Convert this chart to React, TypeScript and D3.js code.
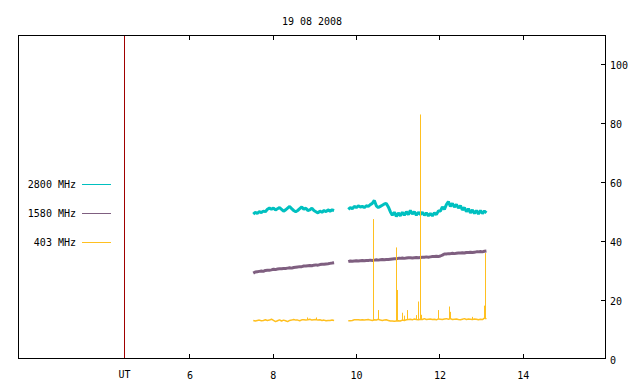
import * as React from 'react';
import { scaleLinear, line } from 'd3';

const title = '19 08 2008';
const xTicks = [6, 8, 10, 12, 14];
const yTicks = [0, 20, 40, 60, 80, 100];
const utMark = 4.43; // red marker line, labelled "UT"

// two recording windows, UT hours
const win1 = [7.52, 9.46];
const win2 = [9.8, 13.115];

// 2800 MHz flux
const f2800a = [49.4, 50.0, 49.6, 50.2, 49.9, 50.4, 50.2, 51.0, 51.4, 51.0, 51.4, 50.8, 51.2, 51.6,
  51.0, 50.4, 50.8, 51.4, 52.0, 51.2, 50.6, 50.2, 50.6, 51.2, 51.8, 51.0, 51.4, 50.6, 50.8, 51.4,
  50.6, 50.2, 49.8, 50.4, 50.0, 50.6, 50.2, 50.8, 50.4, 50.8, 50.6];
const f2800b = [51.0, 51.6, 51.2, 52.0, 51.6, 52.2, 51.8, 52.0, 51.6, 52.2, 52.0, 52.6, 53.0, 54.0,
  52.2, 51.6, 52.0, 52.4, 52.8, 53.0, 51.8, 50.2, 49.0, 50.0, 48.6, 49.8, 48.8, 50.0, 49.0, 50.2,
  49.2, 50.6, 49.4, 50.2, 49.0, 50.0, 49.2, 50.0, 49.0, 49.8, 48.8, 49.6, 48.8, 49.8, 49.2, 50.4,
  50.4, 51.8, 51.0, 52.6, 53.6, 52.0, 53.0, 51.8, 52.6, 51.4, 52.2, 50.8, 51.6, 50.2, 51.2, 49.8,
  50.8, 49.6, 50.6, 49.4, 50.6, 49.6, 50.4, 49.8];

// 1580 MHz flux
const f1580a = [29.4, 29.8, 29.9, 30.0, 30.1, 30.0, 30.3, 30.4, 30.4, 30.5, 30.7, 30.6, 30.8, 30.9,
  30.9, 31.0, 31.0, 31.1, 31.2, 31.1, 31.3, 31.4, 31.5, 31.6, 31.6, 31.8, 31.8, 31.9, 32.0, 31.9,
  32.1, 32.2, 32.1, 32.3, 32.4, 32.4, 32.5, 32.6, 32.7, 32.8, 32.9];
const f1580b = [33.3, 33.5, 33.4, 33.5, 33.6, 33.5, 33.6, 33.7, 33.6, 33.7, 33.7, 33.8, 33.7, 33.8,
  33.9, 33.8, 33.9, 34.0, 33.9, 34.0, 34.0, 34.1, 34.2, 34.3, 34.3, 34.4, 34.4, 34.5, 34.4, 34.5,
  34.6, 34.6, 34.5, 34.6, 34.7, 34.6, 34.7, 34.8, 34.8, 34.9, 34.8, 34.9, 35.0, 35.0, 35.1, 35.0,
  35.2, 35.5, 35.9, 35.9, 36.0, 36.0, 36.1, 36.0, 36.1, 36.2, 36.2, 36.3, 36.2, 36.4, 36.4, 36.5,
  36.4, 36.5, 36.6, 36.6, 36.7, 36.6, 36.8, 36.9];

// 403 MHz flux (background) + bursts
const f403a = [13.4, 13.2, 13.4, 13.5, 13.3, 13.4, 13.6, 13.4, 13.5, 13.8, 13.4, 13.0, 13.3, 13.6,
  13.2, 13.5, 13.3, 13.0, 13.4, 13.5, 13.7, 13.5, 13.5, 13.3, 13.6, 13.6, 13.5, 13.6, 13.8, 13.5,
  13.6, 13.7, 13.5, 13.6, 13.4, 13.5, 13.3, 13.4, 13.4, 13.5, 13.4];
const f403b = [13.3, 13.3, 13.4, 13.6, 13.6, 13.6, 13.5, 13.6, 13.5, 13.6, 13.7, 13.5, 13.4, 13.6,
  13.5, 13.8, 13.5, 13.4, 13.5, 13.6, 13.4, 13.2, 13.2, 13.1, 13.2, 13.3, 13.2, 13.5, 13.4, 13.6,
  13.7, 13.8, 13.6, 13.9, 13.7, 13.6, 13.8, 13.7, 14.0, 13.7, 13.8, 13.9, 13.7, 13.8, 13.6, 13.9,
  13.8, 13.7, 13.9, 14.0, 13.8, 14.0, 13.7, 13.8, 13.9, 13.7, 13.6, 13.8, 14.0, 13.7, 13.9, 13.8,
  13.7, 13.9, 13.8, 13.6, 13.8, 13.7, 14.2, 13.9];
const burstTimes = [8.806, 9.022, 10.396, 10.516, 10.947, 10.978, 11.091, 11.139, 11.221, 11.427,
  11.475, 11.523, 11.547, 11.954, 12.218, 12.242, 12.763, 13.05, 13.082];
const burstPeaks = [14.4, 14.4, 47.7, 16.9, 38.1, 23.7, 16.0, 15.0, 16.9, 15.2, 19.8, 83.1, 15.3,
  16.9, 18.1, 16.3, 14.6, 18.4, 36.2];

const series = [
  { name: '2800 MHz', color: '#00c0c0', width: 3, parts: [f2800a, f2800b] },
  { name: '1580 MHz', color: '#7f5f80', width: 3, parts: [f1580a, f1580b] },
  { name: '403 MHz', color: '#ffc020', width: 1.5, parts: [f403a, f403b] },
];

const W = 640;
const H = 384;
const left = 18, right = 605, top = 35, bottom = 358;
const font = '"DejaVu Sans Mono", monospace';

const withTimes = (win: number[], vals: number[]): [number, number][] => {
  const step = (win[1] - win[0]) / (vals.length - 1);
  return vals.map((v, i) => [win[0] + i * step, v] as [number, number]);
};

export default function App() {
  const x = scaleLinear().domain([1.875, 15.96]).range([left, right]);
  const y = scaleLinear().domain([0, 110]).range([360, top]);

  const path = line<[number, number]>()
    .x(d => x(d[0]))
    .y(d => y(d[1]));

  // background level under each burst
  const baseAt = (t: number) => {
    const [win, vals] = t < win2[0] ? [win1, f403a] : [win2, f403b];
    const step = (win[1] - win[0]) / (vals.length - 1);
    const i = Math.max(0, Math.min(vals.length - 1, Math.round((t - win[0]) / step)));
    return vals[i];
  };

  return (
    <svg width={W} height={H} style={{ position: 'absolute', left: 0, top: 0, background: '#fff' }}
      fontFamily={font} fontSize={10}>
      <text x={312} y={25} textAnchor="middle">{title}</text>

      {/* data */}
      {series.map(s => (
        <g key={s.name} fill="none" stroke={s.color} strokeWidth={s.width} strokeLinejoin="bevel">
          <path d={path(withTimes(win1, s.parts[0])) || ''} />
          <path d={path(withTimes(win2, s.parts[1])) || ''} />
        </g>
      ))}
      <g stroke="#ffc020" strokeWidth={1}>
        {burstTimes.map((t, i) => (
          <line key={i} x1={Math.round(x(t)) + 0.5} x2={Math.round(x(t)) + 0.5}
            y1={y(baseAt(t))} y2={y(burstPeaks[i])} />
        ))}
      </g>

      {/* UT marker */}
      <line x1={Math.round(x(utMark)) + 0.5} x2={Math.round(x(utMark)) + 0.5} y1={top} y2={bottom}
        stroke="#a00000" strokeWidth={1} />

      {/* frame and ticks */}
      <g stroke="#000" strokeWidth={1} shapeRendering="crispEdges">
        <rect x={left} y={top} width={right - left} height={bottom - top} fill="none" />
        {xTicks.map(t => (
          <g key={t}>
            <line x1={x(t)} x2={x(t)} y1={bottom} y2={bottom - 4} />
            <line x1={x(t)} x2={x(t)} y1={top} y2={top + 5} />
          </g>
        ))}
        {yTicks.filter(t => y(t) <= bottom).map(t => (
          <line key={t} x1={right} x2={right - 4} y1={y(t)} y2={y(t)} />
        ))}
      </g>

      {/* tick labels */}
      {xTicks.map(t => (
        <text key={t} x={x(t)} y={379} textAnchor="middle">{t}</text>
      ))}
      <text x={x(utMark)} y={378} textAnchor="middle">UT</text>
      {yTicks.map(t => (
        <text key={t} x={610} y={y(t) + 4}>{t}</text>
      ))}

      {/* legend */}
      {series.map((s, i) => (
        <g key={s.name}>
          <text x={76} y={188 + i * 29} textAnchor="end">{s.name}</text>
          <line x1={82} x2={111} y1={184.5 + i * 29} y2={184.5 + i * 29} stroke={s.color} strokeWidth={1} />
        </g>
      ))}
    </svg>
  );
}
